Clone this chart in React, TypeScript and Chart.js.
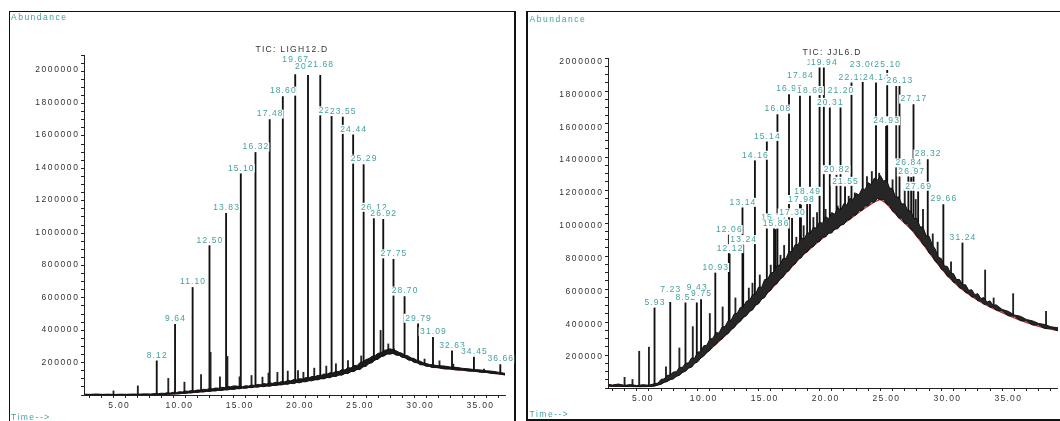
import React, { useEffect, useRef } from 'react';
import { Chart, registerables } from 'chart.js';

Chart.register(...registerables);

// ================= LEFT PANEL: TIC: LIGH12.D =================
// noise band of the chromatogram: time, lower and upper envelope
const L_T = [
  2.10, 2.60, 3.10, 3.60, 4.10, 4.60, 5.10, 5.60, 6.10, 6.60,
  7.10, 7.60, 8.00, 8.25, 8.50, 8.75, 9.00, 9.25, 9.50, 9.75,
  10.00, 10.25, 10.50, 10.75, 11.00, 11.25, 11.50, 11.75, 12.00, 12.25,
  12.50, 12.75, 13.00, 13.25, 13.50, 13.75, 14.00, 14.25, 14.50, 14.75,
  15.00, 15.25, 15.50, 15.75, 16.00, 16.25, 16.50, 16.75, 17.00, 17.25,
  17.50, 17.75, 18.00, 18.25, 18.50, 18.75, 19.00, 19.25, 19.50, 19.75,
  20.00, 20.25, 20.50, 20.75, 21.00, 21.25, 21.50, 21.75, 22.00, 22.25,
  22.50, 22.75, 23.00, 23.25, 23.50, 23.75, 24.00, 24.25, 24.50, 24.75,
  25.00, 25.25, 25.50, 25.75, 26.00, 26.25, 26.50, 26.75, 27.00, 27.25,
  27.50, 27.75, 28.00, 28.25, 28.50, 28.75, 29.00, 29.25, 29.50, 29.75,
  30.00, 30.25, 30.50, 30.75, 31.00, 31.50, 32.00, 32.50, 33.00, 33.50,
  34.00, 34.50, 35.00, 35.50, 36.00, 36.50, 37.04,
];
const L_LOW = [
  1000, 500, 1500, 500, 1000, 500, 1500, 500, 1500, 1000,
  1500, 1000, 2000, 2500, 3000, 3500, 4500, 5000, 6000, 7000,
  8000, 11000, 10000, 14000, 13000, 17000, 16000, 20000, 19000, 23000,
  22000, 26000, 25000, 29000, 28000, 32000, 31000, 36000, 34000, 39000,
  38000, 43000, 41000, 46000, 45000, 50000, 48000, 53000, 51000, 56000,
  54000, 59000, 58000, 63000, 62000, 67000, 66000, 72000, 70000, 77000,
  75000, 82000, 81000, 88000, 87000, 94000, 93000, 101000, 99000, 108000,
  106000, 115000, 114000, 123000, 122000, 133000, 132000, 144000, 144000, 157000,
  157000, 173000, 176000, 194000, 198000, 216000, 220000, 237000, 240000, 253000,
  251000, 256000, 245000, 244000, 231000, 229000, 215000, 213000, 200000, 198000,
  186000, 185000, 176000, 176000, 169000, 168000, 160000, 160000, 153000, 153000,
  147000, 146000, 140000, 139000, 132000, 130000, 123000,
];
const L_HIGH = [
  5000, 4000, 6000, 4000, 5000, 3000, 5000, 4000, 6000, 5000,
  7000, 6000, 9000, 8000, 11000, 10000, 14000, 12000, 17000, 15000,
  20000, 19000, 24000, 23000, 28000, 26000, 31000, 30000, 35000, 34000,
  39000, 38000, 43000, 42000, 47000, 46000, 52000, 50000, 56000, 55000,
  52000, 51000, 57000, 55000, 61000, 59000, 65000, 63000, 70000, 68000,
  74000, 72000, 78000, 76000, 83000, 81000, 89000, 87000, 95000, 93000,
  100000, 98000, 107000, 105000, 114000, 112000, 121000, 119000, 129000, 127000,
  137000, 135000, 146000, 144000, 156000, 154000, 168000, 166000, 182000, 180000,
  200000, 204000, 218000, 224000, 238000, 242000, 256000, 260000, 274000, 278000,
  284000, 278000, 272000, 262000, 256000, 244000, 240000, 228000, 224000, 212000,
  208000, 198000, 194000, 188000, 186000, 180000, 178000, 172000, 170000, 164000,
  161000, 156000, 154000, 149000, 146000, 140000, 133000,
];
const L_BASE_T = [2.10, 8.00, 10.00, 12.00, 14.00, 16.00, 18.00, 20.00, 22.00, 24.00, 25.00, 26.00,
  27.00, 27.50, 28.00, 29.00, 30.00, 31.00, 32.00, 33.00, 34.00, 35.00, 36.00, 37.04];
const L_BASE_V = [1500, 3000, 9000, 21000, 34000, 48000, 61000, 80000, 104000, 138000, 166000, 206000,
  246000, 257000, 252000, 222000, 192000, 173000, 164000, 157000, 150000, 143000, 135000, 125000];
const L_PEAK_T = [8.12, 9.64, 11.10, 12.50, 13.88, 15.10, 16.32, 17.50, 18.59, 19.62, 20.68, 21.70,
  22.64, 23.57, 24.43, 25.30, 26.15, 26.93, 27.78, 28.70, 29.82, 31.06, 32.64, 34.46, 36.65];
const L_PEAK_V = [210000, 435000, 661000, 918000, 1117000, 1360000, 1491000, 1693000, 1834000, 1969000,
  1965000, 1965000, 1713000, 1709000, 1599000, 1416000, 1120000, 1080000, 834000, 605000, 438000,
  355000, 272000, 233000, 187000];
const L_PEAK_LABEL = ['8.12', '9.64', '11.10', '12.50', '13.83', '15.10', '16.32', '17.48', '18.60',
  '19.67', '20.63', '21.68', '22.63', '23.55', '24.44', '25.29', '26.12', '26.92', '27.75', '28.70',
  '29.79', '31.09', '32.63', '34.45', '36.66'];
const L_MINOR_T = [4.53, 6.55, 9.08, 10.42, 11.80, 12.59, 13.37, 13.99, 15.00, 15.99, 16.90, 17.40,
  18.14, 19.00, 19.85, 20.30, 21.20, 22.20, 23.00, 24.00, 25.10, 26.71, 27.35, 27.83, 30.36, 31.60,
  32.75, 35.30];
const L_MINOR_V = [25000, 56000, 102000, 79000, 125000, 262000, 112000, 237000, 112000, 120000, 110000,
  135000, 139000, 147000, 150000, 140000, 165000, 178000, 192000, 212000, 240000, 397000, 314000,
  283000, 221000, 210000, 190000, 160000];

// ================= RIGHT PANEL: TIC: JJL6.D =================
const R_T = [
  2.14, 2.50, 3.00, 3.50, 4.00, 4.50, 5.00, 5.50, 6.00, 6.25,
  6.50, 6.75, 7.00, 7.25, 7.50, 7.75, 8.00, 8.25, 8.50, 8.75,
  9.00, 9.25, 9.50, 9.75, 10.00, 10.25, 10.50, 10.75, 11.00, 11.25,
  11.50, 11.75, 12.00, 12.25, 12.50, 12.75, 13.00, 13.25, 13.50, 13.75,
  14.00, 14.25, 14.50, 14.75, 15.00, 15.25, 15.50, 15.75, 16.00, 16.25,
  16.50, 16.75, 17.00, 17.25, 17.50, 17.75, 18.00, 18.25, 18.50, 18.75,
  19.00, 19.25, 19.50, 19.75, 20.00, 20.25, 20.50, 20.75, 21.00, 21.25,
  21.50, 21.75, 22.00, 22.25, 22.50, 22.75, 23.00, 23.25, 23.50, 23.75,
  24.00, 24.25, 24.50, 24.75, 25.00, 25.25, 25.50, 25.75, 26.00, 26.25,
  26.50, 26.75, 27.00, 27.25, 27.50, 27.75, 28.00, 28.25, 28.50, 28.75,
  29.00, 29.25, 29.50, 29.75, 30.00, 30.25, 30.50, 30.75, 31.00, 31.25,
  31.50, 31.75, 32.00, 32.25, 32.50, 32.75, 33.00, 33.25, 33.50, 33.75,
  34.00, 34.50, 35.00, 35.50, 36.00, 36.50, 37.00, 37.50, 38.00, 38.50,
  39.08,
];
const R_LOW = [
  23000, 21000, 21000, 20000, 20000, 19000, 19000, 20000, 23000, 29000,
  34000, 46000, 50000, 62000, 66000, 82000, 89000, 106000, 113000, 132000,
  138000, 161000, 170000, 193000, 206000, 229000, 240000, 265000, 276000, 300000,
  309000, 334000, 343000, 370000, 379000, 408000, 417000, 444000, 451000, 478000,
  486000, 516000, 524000, 553000, 562000, 595000, 606000, 637000, 646000, 677000,
  686000, 717000, 726000, 757000, 766000, 797000, 804000, 833000, 840000, 867000,
  873000, 900000, 903000, 930000, 931000, 955000, 955000, 980000, 981000, 1005000,
  1008000, 1035000, 1038000, 1063000, 1065000, 1093000, 1093000, 1120000, 1121000, 1145000,
  1143000, 1165000, 1158000, 1160000, 1133000, 1125000, 1088000, 1077000, 1048000, 1045000,
  1015000, 1010000, 978000, 967000, 933000, 920000, 885000, 871000, 833000, 820000,
  783000, 770000, 735000, 725000, 693000, 685000, 655000, 650000, 621000, 617000,
  592000, 589000, 566000, 565000, 542000, 542000, 521000, 522000, 502000, 505000,
  486000, 480000, 452000, 448000, 422000, 419000, 396000, 395000, 374000, 375000,
  360000,
];
const R_HIGH = [
  34000, 29000, 35000, 27000, 32000, 26000, 31000, 28000, 38000, 41000,
  64000, 66000, 88000, 90000, 108000, 110000, 136000, 137000, 160000, 165000,
  194000, 192000, 230000, 232000, 268000, 272000, 308000, 314000, 348000, 346000,
  382000, 386000, 420000, 424000, 462000, 466000, 502000, 505000, 540000, 544000,
  578000, 582000, 626000, 624000, 672000, 674000, 712000, 716000, 756000, 760000,
  800000, 800000, 842000, 842000, 884000, 884000, 926000, 918000, 958000, 952000,
  990000, 985000, 1022000, 1014000, 1056000, 1042000, 1080000, 1070000, 1108000, 1096000,
  1134000, 1126000, 1166000, 1156000, 1196000, 1188000, 1226000, 1220000, 1262000, 1250000,
  1290000, 1276000, 1306000, 1272000, 1278000, 1230000, 1226000, 1172000, 1176000, 1132000,
  1134000, 1090000, 1091000, 1044000, 1044000, 994000, 991000, 940000, 936000, 884000,
  858000, 808000, 800000, 755000, 752000, 712000, 708000, 672000, 672000, 640000,
  640000, 606000, 610000, 580000, 586000, 556000, 562000, 534000, 542000, 514000,
  518000, 490000, 478000, 456000, 448000, 428000, 420000, 404000, 398000, 384000,
  378000,
];
const R_BASE_T = [2.14, 5.80, 6.50, 8.00, 10.00, 12.00, 14.00, 16.00, 18.00, 20.00, 22.00, 23.00, 24.00,
  24.50, 25.00, 26.00, 27.00, 28.00, 29.00, 30.00, 31.00, 32.00, 33.00, 34.00, 35.00, 36.00, 37.00,
  38.00, 39.08];
const R_BASE_V = [22000, 22000, 38000, 92000, 210000, 345000, 495000, 650000, 812000, 940000, 1040000,
  1095000, 1145000, 1160000, 1135000, 1050000, 980000, 888000, 785000, 695000, 623000, 568000, 523000,
  487000, 453000, 423000, 397000, 375000, 360000];
const R_PEAK_T = [5.96, 7.25, 8.50, 9.43, 9.78, 10.95, 12.06, 12.12, 13.18, 13.24, 14.20, 15.18, 15.77,
  15.90, 16.05, 17.00, 17.25, 17.90, 17.98, 18.49, 18.72, 19.51, 19.86, 20.35, 20.90, 21.23, 21.60,
  22.13, 23.05, 24.14, 24.97, 25.06, 26.07, 26.80, 27.03, 27.22, 27.60, 28.39, 29.67, 31.24];
const R_PEAK_V = [499000, 533000, 530000, 530000, 550000, 712000, 943000, 827000, 1109000, 882000,
  1396000, 1511000, 1014000, 977000, 1677000, 1799000, 1045000, 1790000, 1126000, 1176000, 1790000,
  1962000, 1962000, 1718000, 1308000, 1718000, 1237000, 1870000, 1903000, 1870000, 1606000, 1947000,
  1850000, 1349000, 1294000, 1738000, 1207000, 1403000, 1129000, 895000];
const R_PEAK_LABEL = ['5.93', '7.23', '8.52', '9.43', '9.75', '10.93', '12.06', '12.12', '13.14', '13.24',
  '14.16', '15.14', '15.77', '15.86', '16.08', '16.98', '17.30', '17.84', '17.98', '18.49', '18.66',
  '19.55', '19.94', '20.31', '20.82', '21.20', '21.55', '22.13', '23.06', '24.14', '24.93', '25.10',
  '26.13', '26.84', '26.97', '27.17', '27.69', '28.32', '29.66', '31.24'];
const R_MINOR_T = [3.50, 4.15, 4.70, 5.50, 6.90, 8.00, 9.10, 10.50, 11.55, 12.60, 13.70, 14.00, 14.60,
  15.50, 16.30, 16.60, 17.60, 18.20, 19.00, 19.30, 20.00, 21.00, 21.90, 22.40, 23.40, 23.80, 24.40,
  25.50, 25.80, 26.50, 27.40, 28.00, 28.80, 29.20, 30.30, 33.10, 33.80, 35.40, 38.10];
const R_MINOR_V = [76000, 63000, 235000, 260000, 140000, 255000, 385000, 465000, 505000, 560000, 620000,
  650000, 700000, 760000, 820000, 880000, 930000, 1000000, 1050000, 1080000, 1100000, 1120000,
  1180000, 1200000, 1300000, 1330000, 1320000, 1280000, 1850000, 1220000, 1160000, 1100000, 950000,
  900000, 780000, 730000, 560000, 586000, 478000];

// y-axis tick labels (shared by both panels)
const Y_TICK_LABELS = [200000, 400000, 600000, 800000, 1000000, 1200000, 1400000, 1600000, 1800000, 2000000];

// ================= styling / layout =================
const FONT = "'Liberation Sans', Arial, Helvetica, sans-serif";
const TEAL = '#44a0a0';
const INK = '#111111';

type PanelCfg = {
  title: string;
  t: number[]; low: number[]; high: number[];
  baseT: number[]; baseV: number[];
  peakT: number[]; peakV: number[]; peakLabel: string[];
  minorT: number[]; minorV: number[];
  xMin: number; xMax: number; yMin: number; yMax: number;
  left: number; width: number; height: number;
  padTop: number; padRight: number; yAxisWidth: number; xAxisHeight: number;
  titlePos: [number, number]; abundancePos: [number, number]; timePos: [number, number];
  nudge: Record<string, number>;
  bandColor: string;
};

const LEFT: PanelCfg = {
  title: 'TIC: LIGH12.D',
  t: L_T, low: L_LOW, high: L_HIGH, baseT: L_BASE_T, baseV: L_BASE_V,
  peakT: L_PEAK_T, peakV: L_PEAK_V, peakLabel: L_PEAK_LABEL, minorT: L_MINOR_T, minorV: L_MINOR_V,
  xMin: 2.08, xMax: 37.04, yMin: 0, yMax: 2090000,
  left: 0, width: 520, height: 421,
  padTop: 55, padRight: 15, yAxisWidth: 84, xAxisHeight: 26,
  titlePos: [292, 49.5], abundancePos: [11, 17.6], timePos: [11, 418],
  nudge: { '19.67': 10, '20.63': 3, '21.68': 5 },
  bandColor: '#1a1a1a',
};

const RIGHT: PanelCfg = {
  title: 'TIC: JJL6.D',
  t: R_T, low: R_LOW, high: R_HIGH, baseT: R_BASE_T, baseV: R_BASE_V,
  peakT: R_PEAK_T, peakV: R_PEAK_V, peakLabel: R_PEAK_LABEL, minorT: R_MINOR_T, minorV: R_MINOR_V,
  xMin: 2.14, xMax: 39.08, yMin: 11000, yMax: 2022000,
  left: 520, width: 540, height: 421,
  padTop: 58, padRight: 0, yAxisWidth: 88, xAxisHeight: 33,
  titlePos: [312, 52.7], abundancePos: [9.6, 19.6], timePos: [9.6, 415],
  nudge: { '7.23': 7, '9.43': 10, '17.84': 15, '21.20': 12, '23.06': 7 },
  bandColor: '#262626',
};

function toXY(t: number[], v: number[]) {
  return t.map((x, i) => ({ x, y: v[i] }));
}

function Panel({ cfg }: { cfg: PanelCfg }) {
  const ref = useRef<HTMLCanvasElement>(null);

  useEffect(() => {
    const c = cfg;
    const lowXY = toXY(c.t, c.low);
    const highXY = toXY(c.t, c.high);

    const textPlugin = {
      id: 'chemText',
      beforeDraw(chart: any) {
        chart.ctx.letterSpacing = '1.3px';
      },
      afterDatasetsDraw(chart: any) {
        const ctx = chart.ctx as CanvasRenderingContext2D;
        const xs = chart.scales.x;
        const ys = chart.scales.y;
        ctx.save();
        ctx.font = `8.5px ${FONT}`;
        (ctx as any).letterSpacing = '1.1px';
        ctx.textAlign = 'center';
        ctx.textBaseline = 'middle';
        c.peakT.forEach((t, i) => {
          const txt = c.peakLabel[i];
          const x = xs.getPixelForValue(t);
          const y = ys.getPixelForValue(c.peakV[i]) - 5.5 - (c.nudge[txt] || 0);
          const w = ctx.measureText(txt).width;
          ctx.fillStyle = '#ffffff';
          ctx.fillRect(x - w / 2 - 1, y - 4.5, w + 1.5, 9);
          ctx.fillStyle = TEAL;
          ctx.fillText(txt, x + 0.5, y);
        });
        ctx.restore();
      },
      afterDraw(chart: any) {
        const ctx = chart.ctx as CanvasRenderingContext2D;
        const ys = chart.scales.y;
        const area = chart.chartArea;
        ctx.save();
        ctx.font = `8.5px ${FONT}`;
        ctx.textBaseline = 'middle';
        (ctx as any).letterSpacing = '1.6px';
        ctx.textAlign = 'right';
        ctx.fillStyle = '#333333';
        Y_TICK_LABELS.forEach((v) => {
          ctx.fillText(String(v), area.left - 4.5, ys.getPixelForValue(v));
        });
        (ctx as any).letterSpacing = '1.5px';
        ctx.textAlign = 'left';
        ctx.fillStyle = TEAL;
        ctx.fillText('Abundance', c.abundancePos[0], c.abundancePos[1]);
        ctx.fillText('Time-->', c.timePos[0], c.timePos[1]);
        (ctx as any).letterSpacing = '1.3px';
        ctx.textAlign = 'center';
        ctx.fillStyle = '#333333';
        ctx.fillText(c.title, c.titlePos[0], c.titlePos[1]);
        ctx.restore();
      },
    };

    const tickFont = { family: FONT, size: 8.5 };

    const chart = new Chart(ref.current as HTMLCanvasElement, {
      type: 'line',
      data: {
        datasets: [
          // 0: labelled peaks
          {
            type: 'bar',
            data: toXY(c.peakT, c.peakV),
            backgroundColor: INK,
            borderWidth: 0,
            barThickness: 1.2,
            grouped: false,
            order: 9,
          } as any,
          // 1: unlabelled small peaks
          {
            type: 'bar',
            data: toXY(c.minorT, c.minorV),
            backgroundColor: '#222222',
            borderWidth: 0,
            barThickness: 1.2,
            grouped: false,
            order: 8,
          } as any,
          // 2: white mask below the signal
          {
            type: 'line',
            data: lowXY,
            borderWidth: 0,
            borderColor: 'rgba(0,0,0,0)',
            backgroundColor: '#ffffff',
            fill: 'origin',
            pointRadius: 0,
            tension: 0,
            order: 7,
          },
          // 3: red integration baseline
          {
            type: 'line',
            data: toXY(c.baseT, c.baseV),
            borderColor: '#b02a2a',
            borderWidth: 1.2,
            fill: false,
            pointRadius: 0,
            tension: 0,
            order: 6,
          },
          // 4: lower edge of the noise band
          {
            type: 'line',
            data: lowXY,
            borderColor: INK,
            borderWidth: 1,
            fill: false,
            pointRadius: 0,
            tension: 0,
            order: 4,
          },
          // 5: upper edge, filled down to the lower edge
          {
            type: 'line',
            data: highXY,
            borderColor: INK,
            borderWidth: 1,
            backgroundColor: c.bandColor,
            fill: 4,
            pointRadius: 0,
            tension: 0,
            order: 5,
          },
        ],
      },
      options: {
        animation: false,
        responsive: false,
        devicePixelRatio: 1,
        events: [],
        layout: { padding: { left: 0, top: c.padTop, right: c.padRight, bottom: 0 } },
        plugins: { legend: { display: false }, tooltip: { enabled: false } },
        scales: {
          x: {
            type: 'linear',
            min: c.xMin,
            max: c.xMax,
            offset: false,
            afterFit: (s: any) => { s.height = c.xAxisHeight; },
            ticks: {
              stepSize: 1,
              autoSkip: false,
              includeBounds: false,
              maxRotation: 0,
              minRotation: 0,
              padding: 3,
              font: tickFont,
              color: '#333333',
              callback: (v: any) => {
                const n = Number(v);
                return Math.abs(n / 5 - Math.round(n / 5)) < 1e-9 ? n.toFixed(2) : '';
              },
            },
            grid: { drawOnChartArea: false, drawTicks: true, tickLength: 3, color: '#222222', z: 1 },
            border: { display: true, color: '#222222', width: 1, z: 1 },
          },
          y: {
            type: 'linear',
            min: c.yMin,
            max: c.yMax,
            afterFit: (s: any) => { s.width = c.yAxisWidth; },
            ticks: {
              stepSize: 50000,
              autoSkip: false,
              includeBounds: false,
              display: false,
            },
            grid: { drawOnChartArea: false, drawTicks: true, tickLength: 3, color: '#222222', z: 1 },
            border: { display: true, color: '#222222', width: 1, z: 1 },
          },
        },
      } as any,
      plugins: [textPlugin],
    });

    return () => chart.destroy();
  }, [cfg]);

  return (
    <canvas
      ref={ref}
      width={cfg.width}
      height={cfg.height}
      style={{ position: 'absolute', left: cfg.left, top: 0, width: cfg.width, height: cfg.height }}
    />
  );
}

export default function App() {
  return (
    <div
      style={{
        position: 'fixed', left: 0, top: 0, width: 1060, height: 421,
        background: '#ffffff', overflow: 'hidden',
      }}
    >
      <div
        style={{
          position: 'absolute', left: 9, top: 11, width: 507, height: 440,
          border: '1.5px solid #111', borderRightWidth: 2, boxSizing: 'border-box',
        }}
      />
      <div
        style={{
          position: 'absolute', left: 526, top: 11, width: 600, height: 410,
          border: '1.5px solid #111', borderLeftWidth: 2.5, borderBottomWidth: 2.5, boxSizing: 'border-box',
        }}
      />
      <Panel cfg={LEFT} />
      <Panel cfg={RIGHT} />
    </div>
  );
}
